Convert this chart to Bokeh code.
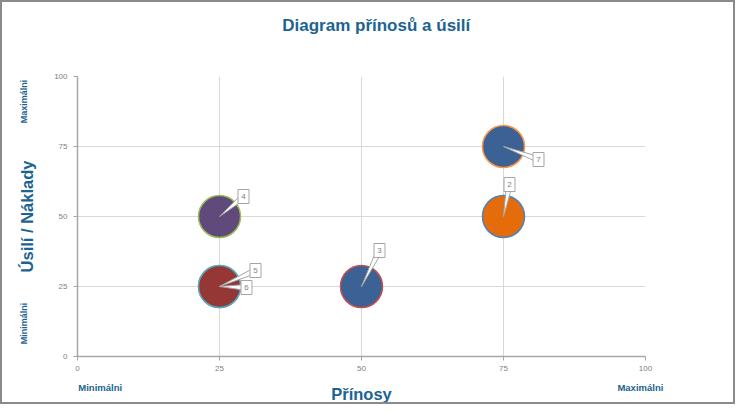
import math
from bokeh.plotting import figure
from bokeh.models import LinearAxis, FixedTicker, ColumnDataSource
from bokeh.core.properties import value
from bokeh.embed import file_html
from bokeh.resources import INLINE

# ---- data ----
title_text = "Diagram přínosů a úsilí"
series_ids = ["2", "3", "4", "5", "6", "7"]
prinosy = [75, 50, 25, 25, 25, 75]       # benefits (x)
usili = [50, 25, 50, 25, 25, 75]         # effort / costs (y)
fill_colors = ["#E46C0A", "#3B6195", "#604A7B", "#4BACC6", "#953735", "#3B6195"]
line_colors = ["#4F81BD", "#C0504D", "#9BBB59", "#F79646", "#4BACC6", "#F79646"]
tick_values = [0, 25, 50, 75, 100]
x_end_labels = ["Minimálni", "Maximálni"]
y_end_labels = ["Maximálni", "Minimálni"]

# label callout offsets in screen pixels (dx right, dy down) - style only
label_offsets = [(6, -32), (18, -36), (24, -20), (36, -16), (27, 1), (35, 13)]

TITLE_C = "#1B6393"
FONT = "Liberation Sans"

W, H = 735, 404
BL, BR, BT, BB = 75, 92, 74, 50
FW = W - BL - BR
FH = H - BT - BB
SX = FW / 100.0
SY = FH / 100.0
FRAME_LEFT_PIC = 2 + BL
FRAME_TOP_PIC = 2 + BT

p = figure(width=W, height=H, x_range=(0, 100), y_range=(0, 100),
           output_backend="svg", toolbar_location=None, title_location=None,
           min_border_left=BL, min_border_right=BR,
           min_border_top=BT, min_border_bottom=BB)
p.styles = {"border": "2px solid #8a8a8a"}
p.outline_line_color = None
p.background_fill_color = "white"
p.border_fill_color = "white"

for ax in (p.xaxis[0], p.yaxis[0]):
    ax.ticker = FixedTicker(ticks=tick_values)
    ax.axis_line_color = "#a6a6a6"
    ax.axis_line_width = 1.5
    ax.major_tick_line_color = "#a6a6a6"
    ax.major_tick_in = 0
    ax.major_tick_out = 4
    ax.minor_tick_line_color = None
    ax.major_label_text_font = FONT
    ax.major_label_text_font_size = "8px"
    ax.major_label_text_color = "#808080"
p.xaxis.major_label_standoff = 5
p.yaxis.major_label_standoff = 6


def px_to_x(px):
    return round((px - FRAME_LEFT_PIC) / SX, 1)


def py_to_y(py):
    return round(100 - (py - FRAME_TOP_PIC) / SY, 1)


def text_axis(ticks, labels, size, standoff, axis_label=None, label_standoff=0):
    ax = LinearAxis(ticker=FixedTicker(ticks=ticks),
                    major_label_overrides=dict(zip(ticks, labels)),
                    axis_line_color=None, major_tick_line_color=None,
                    minor_tick_line_color=None, major_tick_in=0, major_tick_out=0,
                    major_label_text_font=FONT, major_label_text_font_size=size,
                    major_label_text_font_style="bold",
                    major_label_text_color=TITLE_C,
                    major_label_standoff=standoff)
    if axis_label:
        ax.axis_label = axis_label
        ax.axis_label_text_font = FONT
        ax.axis_label_text_font_size = "16.5px"
        ax.axis_label_text_font_style = "bold"
        ax.axis_label_text_color = TITLE_C
        ax.axis_label_standoff = label_standoff
    return ax


# title (centered over the chart as in the reference)
ta = text_axis([px_to_x(375.5)], [title_text], "17px", 42)
xa = text_axis([px_to_x(100), px_to_x(640)], x_end_labels, "9.5px", 8,
               "Přínosy", -11)
ya = text_axis([py_to_y(101), py_to_y(323)], y_end_labels, "9px", 22,
               "Úsilí / Náklady", -19)
ya.major_label_orientation = "vertical"
p.add_layout(ta, "above")
p.add_layout(xa, "below")
p.add_layout(ya, "left")

p.grid.grid_line_color = "#d9d9d9"
p.grid.grid_line_width = 1

# callout wedges and boxes
wx, wy, bx, by = [], [], [], []
for x, y, (ox, oy) in zip(prinosy, usili, label_offsets):
    L = math.hypot(ox, oy)
    perp = (-oy / L * 3, ox / L * 3)
    bxx = x + ox / SX
    byy = y - oy / SY
    wx.append([x, bxx + perp[0] / SX, bxx - perp[0] / SX])
    wy.append([y, byy - perp[1] / SY, byy + perp[1] / SY])
    bx.append(bxx)
    by.append(byy)

src = ColumnDataSource(dict(x=prinosy, y=usili, fill=fill_colors, line=line_colors,
                            ids=series_ids, bx=bx, by=by, wx=wx, wy=wy))

p.scatter("x", "y", source=src, size=42, fill_color="fill", line_color="line",
          line_width=1.5)
p.patches("wx", "wy", source=src, fill_color="white", line_color="#a6a6a6",
          line_width=1)
p.rect("bx", "by", width=11, height=14, width_units="screen", height_units="screen",
       source=src, fill_color="white", line_color="#a6a6a6", line_width=1)
p.text("bx", "by", text="ids", source=src, text_align="center",
       text_baseline="middle", text_font=value(FONT), text_font_size="8px",
       text_color="#7f7f7f")

open("out.html", "w").write(file_html(p, INLINE))
